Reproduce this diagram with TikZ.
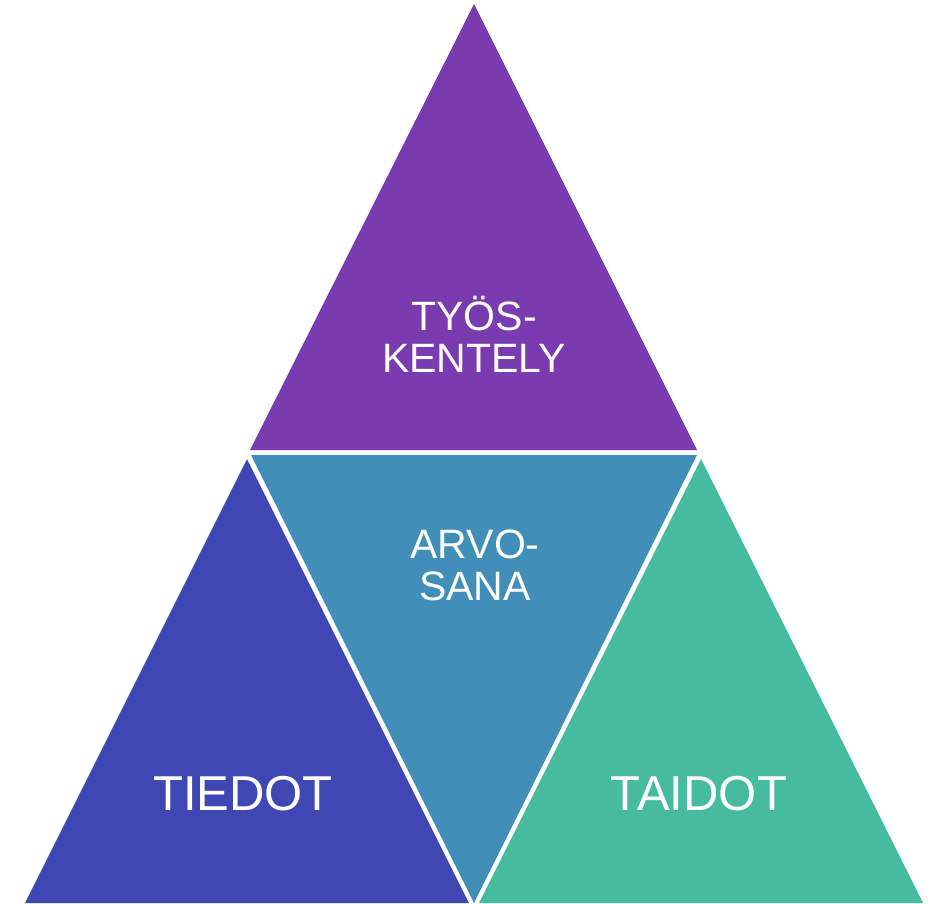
\documentclass[tikz,border=0pt]{standalone}
\usepackage{fontspec}
\setmainfont{Liberation Sans}
\definecolor{tyoPurple}{HTML}{7A3BB1}
\definecolor{tietoBlue}{HTML}{3F47B5}
\definecolor{arvoBlue}{HTML}{418FB8}
\definecolor{taitoGreen}{HTML}{46BBA0}
\tikzset{
  label2/.style={text=white, font=\fontsize{41}{42}\selectfont, align=center, inner sep=0pt, anchor=base},
  label1/.style={text=white, font=\fontsize{49}{50}\selectfont, inner sep=0pt, anchor=base}
}
\begin{document}
\begin{tikzpicture}[x=1pt,y=-1pt]
			\useasboundingbox (0,0) rectangle (936,903);
			
			% top
			\fill[tyoPurple] (474,4) -- (697,450) -- (250,450) -- cycle;
			% left
			\fill[tietoBlue] (247,459) -- (469,903) -- (25,903) -- cycle;
			% middle, upside down
			\fill[arvoBlue] (251,455) -- (697,455) -- (474,903) -- cycle;
			% right
			\fill[taitoGreen] (701,459) -- (923,903) -- (479,903) -- cycle;
			
			\node[label2] (tyo) at (474,372) {TYÖS-\\KENTELY};
			\node[label2] (arvo) at (475,600) {ARVO-\\SANA};
			\node[label1] (tiedot) at (243,810) {TIEDOT};
			\node[label1] (taidot) at (699,810) {TAIDOT};
			
\end{tikzpicture}
\end{document}
